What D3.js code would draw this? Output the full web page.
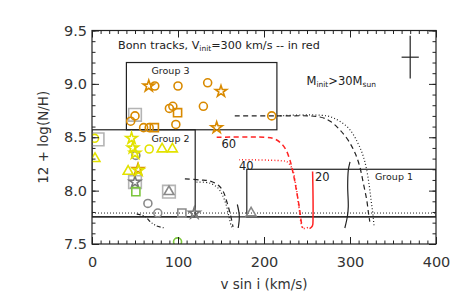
<!DOCTYPE html>
<html>
<head>
<meta charset="utf-8">
<script src="https://cdn.jsdelivr.net/npm/d3@7"></script>
<style>
  html, body { margin: 0; padding: 0; background: #fff; }
  svg { display: block; }
</style>
</head>
<body>
<div id="chart"></div>
<script>
// N abundance vs v sin i, with Bonn evolutionary tracks and three sample groups.
// Points are [v sin i (km/s), 12 + log(N/H)].

const xTicks = [0, 100, 200, 300, 400];
const yTicks = [7.5, 8.0, 8.5, 9.0, 9.5];

const orangeCircles   = [[73,8.98],[100,8.98],[134.5,9.01],[90,8.77],[94,8.79],[129.5,8.79],
                         [50,8.70],[45,8.65],[97.5,8.62],[60,8.59],[66.5,8.59],[209,8.70]];
const orangeSquares   = [[99.5,8.73],[72.5,8.59]];
const orangeStars     = [[66,8.98],[150,8.93],[145,8.59],[53.5,8.20]];
const yellowCircles   = [[3,8.49],[66.5,8.39]];
const yellowTriangles = [[3.5,8.30],[81.5,8.39],[93.5,8.39],[42,8.18]];
const yellowStars     = [[46,8.49],[47.5,8.40],[50,8.35],[54,8.19]];
const grayCircles     = [[51,8.33],[65,7.88],[76.5,7.79]];
const graySquares     = [[104.5,7.79]];
const grayStars       = [[50,8.08],[119,7.79]];
const grayTriangles   = [[89.5,7.99],[185,7.79]];
const greenSquares    = [[51,7.99]];
const greenCircles    = [[99.5,7.52]];
// light grey frames drawn around some of the points
const framedPoints    = [[50,8.71],[6.5,8.48],[50,8.08],[89.5,7.99]];

// tracks, black = other rotation, red = Vinit 300 km/s
const blackDashHigh  = [[166,8.70],[215,8.70],[265,8.69],[277,8.65],[288,8.57],[298,8.47],[306,8.35],
                        [311.5,8.22],[315.5,8.07],[319.5,7.91],[321.5,7.79],[323,7.71]];
const blackDotHigh   = [[215,8.70],[273,8.70],[288,8.65],[300,8.57],[309.5,8.44],[315.5,8.32],
                        [319.5,8.19],[322.5,8.04],[324.5,7.91],[326.5,7.79],[328,7.66]];
const blackSolidHigh = [[300,8.27],[298,8.19],[297.3,8.04],[298,7.85],[297,7.76],[294,7.65]];
const redDash        = [[145,8.50],[200,8.50],[210.5,8.49],[219,8.45],[225,8.39],[230,8.29],[233.7,8.17],
                        [238,7.99],[241.5,7.82],[243.5,7.70],[245,7.65]];
const redDot         = [[171,8.29],[220,8.28],[227,8.27],[233,8.20],[237,8.05],[240.5,7.85],
                        [243,7.70],[245,7.65],[248,7.645],[251,7.655]];
const redSolid       = [[256.5,8.18],[257,7.95],[257,7.75],[256.3,7.67],[253,7.645]];
const blackDashLow   = [[108,8.11],[126,8.10],[137,8.09],[147,8.05],[152.7,7.99],[156.6,7.90],
                        [160.5,7.79],[164,7.66]];
const blackDotLow    = [[121.5,8.08],[137,8.07],[147,8.02],[152.7,7.94],[156.6,7.85],[159.7,7.74],
                        [162.5,7.66],[165,7.64]];
const blackSolidLow  = [[169,7.87],[171.3,7.76],[170,7.65]];
const blackDashDotLow = [[52,7.78],[61.5,7.76],[67.5,7.71],[75,7.67],[85,7.65]];

// sample boxes [vLow, vHigh, nLow, nHigh]
const group3Box = [40, 215, 8.57, 9.2];
const group2Box = [0, 120, 7.755, 8.57];
const group1Box = [180, 400, 7.755, 8.2];
const baseSolidN  = 7.755;
const baseDottedN = 7.79;

const errorCenter = [370, 9.25];
const errorHalf   = [10, 0.2];

const width  = 463;
const height = 305;
const ink    = "#222";
const orange = "#d98a00";
const yellow = "#e2e200";
const green  = "#7cc63c";
const gray   = "#8a8a8a";
const red    = "#ff2424";
const font   = "DejaVu Sans, sans-serif";

const x = d3.scaleLinear().domain([0, 400]).range([92, 436]);
const y = d3.scaleLinear().domain([7.5, 9.5]).range([244, 30.5]);

const svg = d3.select("#chart")
  .append("svg")
  .attr("width",  width)
  .attr("height", height)
  .attr("font-family", font);

svg.append("rect")
  .attr("width",  width)
  .attr("height", height)
  .attr("fill",   "#fff");

svg.append("clipPath")
  .attr("id", "plotArea")
  .append("rect")
  .attr("x", x(0))
  .attr("y", y(9.5))
  .attr("width",  x(400) - x(0))
  .attr("height", y(7.5) - y(9.5));

const plot = svg.append("g").attr("clip-path", "url(#plotArea)");

// ── boxes and reference lines ─────────────────────────────────────────────
function drawBox(box) {
  plot.append("rect")
    .attr("x",      x(box[0]))
    .attr("y",      y(box[3]))
    .attr("width",  x(box[1]) - x(box[0]))
    .attr("height", y(box[2]) - y(box[3]))
    .attr("fill",   "none")
    .attr("stroke", ink)
    .attr("stroke-width", 1.2);
}
[group3Box, group2Box, group1Box].forEach(drawBox);

plot.append("line")
  .attr("x1", x(0)).attr("x2", x(400))
  .attr("y1", y(baseSolidN)).attr("y2", y(baseSolidN))
  .attr("stroke", ink)
  .attr("stroke-width", 1.2);

plot.append("line")
  .attr("x1", x(0)).attr("x2", x(400))
  .attr("y1", y(baseDottedN)).attr("y2", y(baseDottedN))
  .attr("stroke", ink)
  .attr("stroke-width", 1)
  .attr("stroke-dasharray", "1 2");

// ── tracks ────────────────────────────────────────────────────────────────
const line = d3.line()
  .x(d => x(d[0]))
  .y(d => y(d[1]))
  .curve(d3.curveCatmullRom.alpha(0.5));

const tracks = [
  { pts: blackDashHigh,   color: ink, dash: "5 3.5" },
  { pts: blackDotHigh,    color: ink, dash: "1 2.2" },
  { pts: blackSolidHigh,  color: ink, dash: null },
  { pts: blackDashLow,    color: ink, dash: "5 3.5" },
  { pts: blackDotLow,     color: ink, dash: "1 2.2" },
  { pts: blackSolidLow,   color: ink, dash: null },
  { pts: blackDashDotLow, color: ink, dash: "4 2 1 2 1 2" },
  { pts: redDash,         color: red, dash: "5 3.5" },
  { pts: redDot,          color: red, dash: "1 2.2" },
  { pts: redSolid,        color: red, dash: null },
];

tracks.forEach(t => {
  plot.append("path")
    .datum(t.pts)
    .attr("fill",   "none")
    .attr("stroke", t.color)
    .attr("stroke-width", t.color === red ? 1.5 : 1.2)
    .attr("stroke-dasharray", t.dash)
    .attr("d", line);
});

// ── points ────────────────────────────────────────────────────────────────
const symbolSize = { circle: 50, square: 66, star: 40, triangle: 42 };
const symbolType = {
  circle:   d3.symbolCircle,
  square:   d3.symbolSquare,
  star:     d3.symbolStar,
  triangle: d3.symbolTriangle,
};

function drawPoints(points, kind, color, size) {
  const sym = d3.symbol().type(symbolType[kind]).size(size || symbolSize[kind]);
  plot.append("g")
    .selectAll("path")
    .data(points)
    .join("path")
    .attr("transform", d => `translate(${x(d[0])},${y(d[1])})`)
    .attr("d", sym)
    .attr("fill",   "none")
    .attr("stroke", color)
    .attr("stroke-width", 1.6)
    .attr("stroke-linejoin", "miter");
}

drawPoints(framedPoints, "square", "#b4b4b4", 160);
drawPoints(grayCircles,     "circle",   gray);
drawPoints(graySquares,     "square",   gray);
drawPoints(grayStars,       "star",     "#777");
drawPoints(grayTriangles,   "triangle", gray);
drawPoints(greenSquares,    "square",   green);
drawPoints(greenCircles,    "circle",   green);
drawPoints(orangeCircles,   "circle",   orange);
drawPoints(orangeSquares,   "square",   orange);
drawPoints(orangeStars,     "star",     orange);
drawPoints(yellowCircles,   "circle",   yellow);
drawPoints(yellowTriangles, "triangle", yellow);
drawPoints(yellowStars,     "star",     yellow);

// typical error bar
svg.append("line")
  .attr("x1", x(errorCenter[0])).attr("x2", x(errorCenter[0]))
  .attr("y1", y(errorCenter[1] - errorHalf[1])).attr("y2", y(errorCenter[1] + errorHalf[1]))
  .attr("stroke", ink).attr("stroke-width", 1.2);
svg.append("line")
  .attr("x1", x(errorCenter[0] - errorHalf[0])).attr("x2", x(errorCenter[0] + errorHalf[0]))
  .attr("y1", y(errorCenter[1])).attr("y2", y(errorCenter[1]))
  .attr("stroke", ink).attr("stroke-width", 1.2);

// ── axes, ticks on all four sides pointing inward ─────────────────────────
function tidy(g, withText) {
  g.select(".domain").remove();
  g.selectAll(".tick line").attr("stroke", ink).attr("stroke-width", 1);
  if (withText) {
    g.selectAll(".tick text")
      .attr("fill", "#333")
      .attr("font-family", font)
      .attr("font-size", "14.5px");
  }
}

const xMinor = d3.range(0, 401, 10);
const yMinor = d3.range(75, 96).map(v => v / 10);

svg.append("g")
  .attr("transform", `translate(0,${y(7.5)})`)
  .call(d3.axisBottom(x).tickValues(xMinor).tickSize(-3.5).tickFormat(""))
  .call(g => tidy(g, false));
svg.append("g")
  .attr("transform", `translate(0,${y(7.5)})`)
  .call(d3.axisBottom(x).tickValues(xTicks).tickSizeInner(-7).tickSizeOuter(0)
    .tickPadding(13).tickFormat(d3.format("d")))
  .call(g => tidy(g, true));

svg.append("g")
  .attr("transform", `translate(0,${y(9.5)})`)
  .call(d3.axisTop(x).tickValues(xMinor).tickSize(-3.5).tickFormat(""))
  .call(g => tidy(g, false));
svg.append("g")
  .attr("transform", `translate(0,${y(9.5)})`)
  .call(d3.axisTop(x).tickValues(xTicks).tickSize(-7).tickFormat(""))
  .call(g => tidy(g, false));

svg.append("g")
  .attr("transform", `translate(${x(0)},0)`)
  .call(d3.axisLeft(y).tickValues(yMinor).tickSize(-3.5).tickFormat(""))
  .call(g => tidy(g, false));
svg.append("g")
  .attr("transform", `translate(${x(0)},0)`)
  .call(d3.axisLeft(y).tickValues(yTicks).tickSizeInner(-7).tickSizeOuter(0)
    .tickPadding(5).tickFormat(d3.format(".1f")))
  .call(g => tidy(g, true));

svg.append("g")
  .attr("transform", `translate(${x(400)},0)`)
  .call(d3.axisRight(y).tickValues(yMinor).tickSize(-3.5).tickFormat(""))
  .call(g => tidy(g, false));
svg.append("g")
  .attr("transform", `translate(${x(400)},0)`)
  .call(d3.axisRight(y).tickValues(yTicks).tickSize(-7).tickFormat(""))
  .call(g => tidy(g, false));

svg.append("rect")
  .attr("x", x(0))
  .attr("y", y(9.5))
  .attr("width",  x(400) - x(0))
  .attr("height", y(7.5) - y(9.5))
  .attr("fill",   "none")
  .attr("stroke", ink)
  .attr("stroke-width", 1.2);

// axis titles
svg.append("text")
  .attr("x", (x(0) + x(400)) / 2)
  .attr("y", 289)
  .attr("text-anchor", "middle")
  .attr("fill", "#333")
  .attr("font-size", "13.5px")
  .text("v sin i (km/s)");

svg.append("text")
  .attr("transform", `translate(48,${(y(7.5) + y(9.5)) / 2}) rotate(-90)`)
  .attr("text-anchor", "middle")
  .attr("fill", "#333")
  .attr("font-size", "13.5px")
  .text("12 + log(N/H)");

// ── annotations ───────────────────────────────────────────────────────────
const title = svg.append("text")
  .attr("x", 118)
  .attr("y", 48.5)
  .attr("fill", ink)
  .attr("font-size", "11.2px");
title.append("tspan").text("Bonn tracks, V");
title.append("tspan").attr("font-size", "7.5px").attr("dy", 2.5).text("init");
title.append("tspan").attr("dy", -2.5).text("=300 km/s -- in red");

const massNote = svg.append("text")
  .attr("x", 306.5)
  .attr("y", 84.5)
  .attr("fill", ink)
  .attr("font-size", "11.5px");
massNote.append("tspan").text("M");
massNote.append("tspan").attr("font-size", "7.5px").attr("dy", 2.5).text("init");
massNote.append("tspan").attr("dy", -2.5).text(">30M");
massNote.append("tspan").attr("font-size", "7.5px").attr("dy", 2.5).text("sun");

const smallLabels = [
  { text: "Group 3", x: 151.5, y: 73.5,  size: 9.5 },
  { text: "Group 2", x: 151.5, y: 141.8, size: 9.5 },
  { text: "Group 1", x: 375,   y: 179.5, size: 9.5 },
  { text: "60",      x: 221.5, y: 148,   size: 11.5 },
  { text: "40",      x: 239,   y: 169.5, size: 11.5 },
  { text: "20",      x: 315,   y: 181,   size: 11.5 },
];

smallLabels.forEach(l => {
  svg.append("text")
    .attr("x", l.x)
    .attr("y", l.y)
    .attr("fill", ink)
    .attr("font-size", l.size + "px")
    .text(l.text);
});
</script>
</body>
</html>
